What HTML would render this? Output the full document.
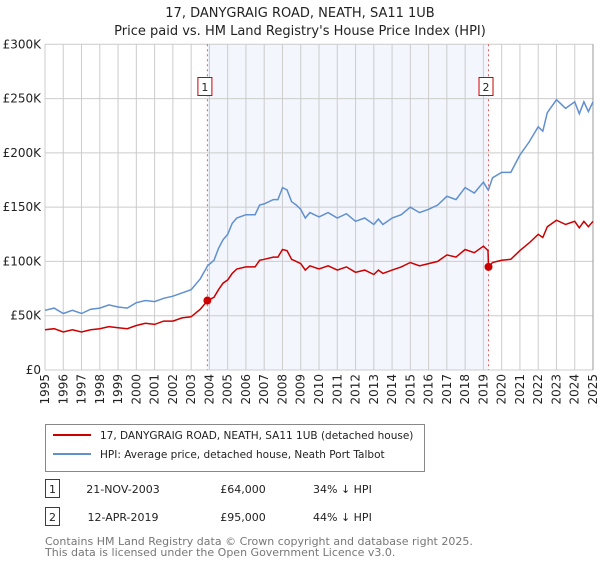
<!DOCTYPE html>
<html><head><meta charset="utf-8"><style>
body{margin:0;background:#fff;font-family:"Liberation Sans","DejaVu Sans",sans-serif}
svg text{font-family:"DejaVu Sans","Liberation Sans",sans-serif}
</style></head><body>
<svg id="chart" width="600" height="560" xmlns="http://www.w3.org/2000/svg">
<text x="300" y="17" text-anchor="middle" font-size="13" fill="#222">17, DANYGRAIG ROAD, NEATH, SA11 1UB</text>
<text x="300" y="35" text-anchor="middle" font-size="13" fill="#222">Price paid vs. HM Land Registry's House Price Index (HPI)</text>
<g id="plot"></g>
<g>
<rect x="45.5" y="424.5" width="379" height="47" fill="#fff" stroke="#888"/>
<line x1="53" y1="435" x2="91" y2="435" stroke="#cc0000" stroke-width="2"/>
<text x="100" y="439" font-size="10.5" fill="#222">17, DANYGRAIG ROAD, NEATH, SA11 1UB (detached house)</text>
<line x1="53" y1="454" x2="91" y2="454" stroke="#6090d0" stroke-width="2"/>
<text x="100" y="458" font-size="10.5" fill="#222">HPI: Average price, detached house, Neath Port Talbot</text>
</g>
<g font-size="11" fill="#222">
<rect x="45.5" y="479.5" width="14" height="18" fill="#fff" stroke="#cc0000"/>
<text x="52.5" y="493" text-anchor="middle">1</text>
<text x="123" y="493" text-anchor="middle">21-NOV-2003</text>
<text x="243" y="493" text-anchor="middle">£64,000</text>
<text x="313" y="493">34% ↓ HPI</text>
<rect x="45.5" y="507.5" width="14" height="18" fill="#fff" stroke="#cc0000"/>
<text x="52.5" y="521" text-anchor="middle">2</text>
<text x="123" y="521" text-anchor="middle">12-APR-2019</text>
<text x="243" y="521" text-anchor="middle">£95,000</text>
<text x="313" y="521">44% ↓ HPI</text>
</g>
<text x="45" y="545" font-size="11" fill="#777">Contains HM Land Registry data © Crown copyright and database right 2025.</text>
<text x="45" y="556" font-size="11" fill="#777">This data is licensed under the Open Government Licence v3.0.</text>
</svg>
<script>
const years=[1995,1995.5,1996,1996.5,1997,1997.5,1998,1998.5,1999,1999.5,2000,2000.5,2001,2001.5,2002,2002.5,2003,2003.5,2003.9,2004.25,2004.5,2004.75,2005,2005.25,2005.5,2006,2006.5,2006.75,2007,2007.5,2007.75,2008,2008.25,2008.5,2008.75,2009,2009.25,2009.5,2010,2010.5,2011,2011.5,2012,2012.5,2013,2013.25,2013.5,2014,2014.5,2015,2015.5,2016,2016.5,2017,2017.5,2018,2018.5,2019,2019.25,2019.28,2019.5,2020,2020.5,2021,2021.5,2022,2022.25,2022.5,2023,2023.5,2024,2024.25,2024.5,2024.75,2025];
const hpi=[55,57,52,55,52,56,57,60,58,57,62,64,63,66,68,71,74,84,96,101,112,120,125,135,140,143,143,152,153,157,157,168,166,155,152,148,140,145,141,145,140,144,137,140,134,139,134,140,143,150,145,148,152,160,157,168,163,173,166,166,177,182,182,198,210,224,220,237,249,241,247,236,247,238,247];
const paid=[37,38,35,37,35,37,38,40,39,38,41,43,42,45,45,48,49,56,64,67,74,80,83,89,93,95,95,101,102,104,104,111,110,102,100,98,92,96,93,96,92,95,90,92,88,92,89,92,95,99,96,98,100,106,104,111,108,114,110,95,99,101,102,110,117,125,122,132,138,134,137,131,137,132,137];
const saleYears=[2003.89,2019.28];
const salePrices=[64,95];
const saleLabels=['1','2'];
const yTicks=[0,50,100,150,200,250,300];
const yTickLabels=['£0','£50K','£100K','£150K','£200K','£250K','£300K'];
const xTicks=[];for(let y=1995;y<=2025;y++)xTicks.push(y);
const X0=45,X1=593,Y0=370,Y1=44.3;
const xs=v=>X0+(v-1995)/30*(X1-X0);
const ys=v=>Y0-v/300*(Y0-Y1);
const NS='http://www.w3.org/2000/svg';
const g=document.getElementById('plot');
function mk(t,a,p){const e=document.createElementNS(NS,t);for(const k in a)e.setAttribute(k,a[k]);(p||g).appendChild(e);return e;}
const shade=mk('rect',{x:xs(saleYears[0]),y:Y1,width:xs(saleYears[1])-xs(saleYears[0]),height:Y0-Y1,fill:'#f3f6fd'});


xTicks.forEach(t=>{const l=mk('line',{x1:xs(t),y1:Y1,x2:xs(t),y2:Y0,stroke:'#ccc','stroke-width':1});


const tx=mk('text',{x:0,y:0,'font-size':12,fill:'#222','text-anchor':'end',transform:`translate(${xs(t)+4},${Y0+4}) rotate(-90)`});tx.textContent=t;

});
yTicks.forEach((t,i)=>{const l=mk('line',{x1:X0,y1:ys(t),x2:X1,y2:ys(t),stroke:'#ccc','stroke-width':1});


const tx=mk('text',{x:X0-4,y:ys(t)+4,'font-size':12,fill:'#222','text-anchor':'end'});tx.textContent=yTickLabels[i];

});
const ax=mk('line',{x1:X1,y1:Y1,x2:X1,y2:Y0,stroke:'#999','stroke-width':1});


saleYears.forEach((s,i)=>{const l=mk('line',{x1:xs(s),y1:Y1,x2:xs(s),y2:Y0,stroke:'#e06060','stroke-width':1,'stroke-dasharray':'2,3'});


const r=mk('rect',{x:xs(s)-9.5,y:77.5,width:14,height:18,fill:'#fff',stroke:'#cc0000'});


const t=mk('text',{x:xs(s)-2.5,y:91,'font-size':11,fill:'#222','text-anchor':'middle'});t.textContent=saleLabels[i];

});
const hp=mk('path',{d:years.map((y,i)=>(i?'L':'M')+xs(y).toFixed(1)+','+ys(hpi[i]).toFixed(1)).join(''),fill:'none',stroke:'#6090d0','stroke-width':1.5});


const pp=mk('path',{d:years.map((y,i)=>(i?'L':'M')+xs(y).toFixed(1)+','+ys(paid[i]).toFixed(1)).join(''),fill:'none',stroke:'#cc0000','stroke-width':1.5});


saleYears.forEach((s,i)=>{const c=mk('circle',{cx:xs(s),cy:ys(salePrices[i]),r:4,fill:'#cc0000'});

});
</script>
</body></html>
